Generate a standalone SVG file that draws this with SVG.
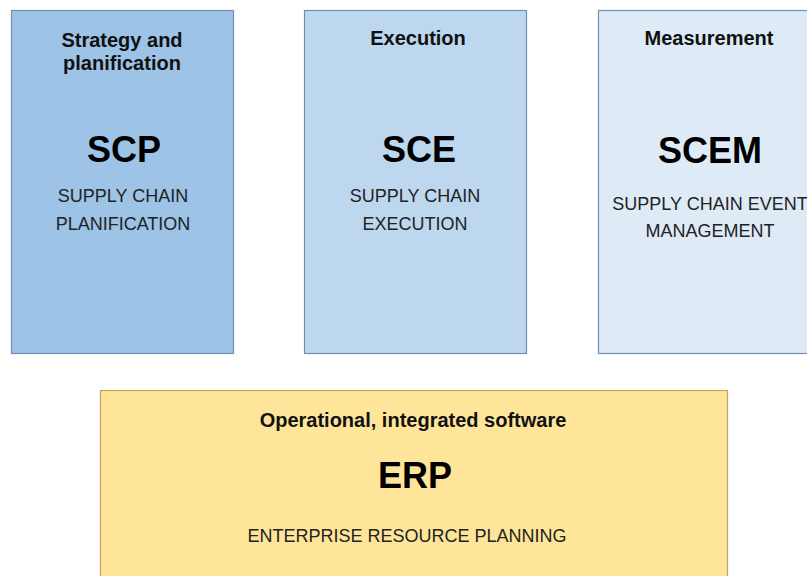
<svg xmlns="http://www.w3.org/2000/svg" width="807" height="576" viewBox="0 0 807 576">
  <style>
    .box { stroke-width: 1.2; }
    .head { font-family: "Liberation Sans", Arial, sans-serif; font-size: 20px; font-weight: bold; fill: #111; text-anchor: middle; }
    .code { font-family: "Liberation Sans", Arial, sans-serif; font-size: 36px; font-weight: bold; fill: #000; text-anchor: middle; }
    .desc { font-family: "Liberation Sans", Arial, sans-serif; font-size: 18px; fill: #222; text-anchor: middle; }
  </style>
  <rect width="807" height="576" fill="#ffffff"/>

  <g id="scp">
    <rect class="box" x="11.5" y="10.5" width="222" height="343" fill="#9dc3e6" stroke="#6f8fb8"/>
    <text class="head" x="122" y="47">Strategy and</text>
    <text class="head" x="122" y="70">planification</text>
    <text class="code" x="124" y="162">SCP</text>
    <text class="desc" x="123" y="202">SUPPLY CHAIN</text>
    <text class="desc" x="123" y="230">PLANIFICATION</text>
  </g>

  <g id="sce">
    <rect class="box" x="304.5" y="10.5" width="222" height="343" fill="#bdd7ee" stroke="#6f8fb8"/>
    <text class="head" x="418" y="45">Execution</text>
    <text class="code" x="419" y="162">SCE</text>
    <text class="desc" x="415" y="202">SUPPLY CHAIN</text>
    <text class="desc" x="415" y="230">EXECUTION</text>
  </g>

  <g id="scem">
    <rect class="box" x="598.5" y="10.5" width="222" height="343" fill="#deebf7" stroke="#6f8fb8"/>
    <text class="head" x="709" y="45">Measurement</text>
    <text class="code" x="710" y="163">SCEM</text>
    <text class="desc" x="710" y="210">SUPPLY CHAIN EVENT</text>
    <text class="desc" x="710" y="237">MANAGEMENT</text>
  </g>

  <g id="erp">
    <rect class="box" x="100.5" y="390.5" width="627" height="200" fill="#ffe599" stroke="#c4a45a"/>
    <text class="head" x="413" y="427">Operational, integrated software</text>
    <text class="code" x="415" y="488">ERP</text>
    <text class="desc" x="407" y="542">ENTERPRISE RESOURCE PLANNING</text>
  </g>

  <g id="connectors"></g>
</svg>
